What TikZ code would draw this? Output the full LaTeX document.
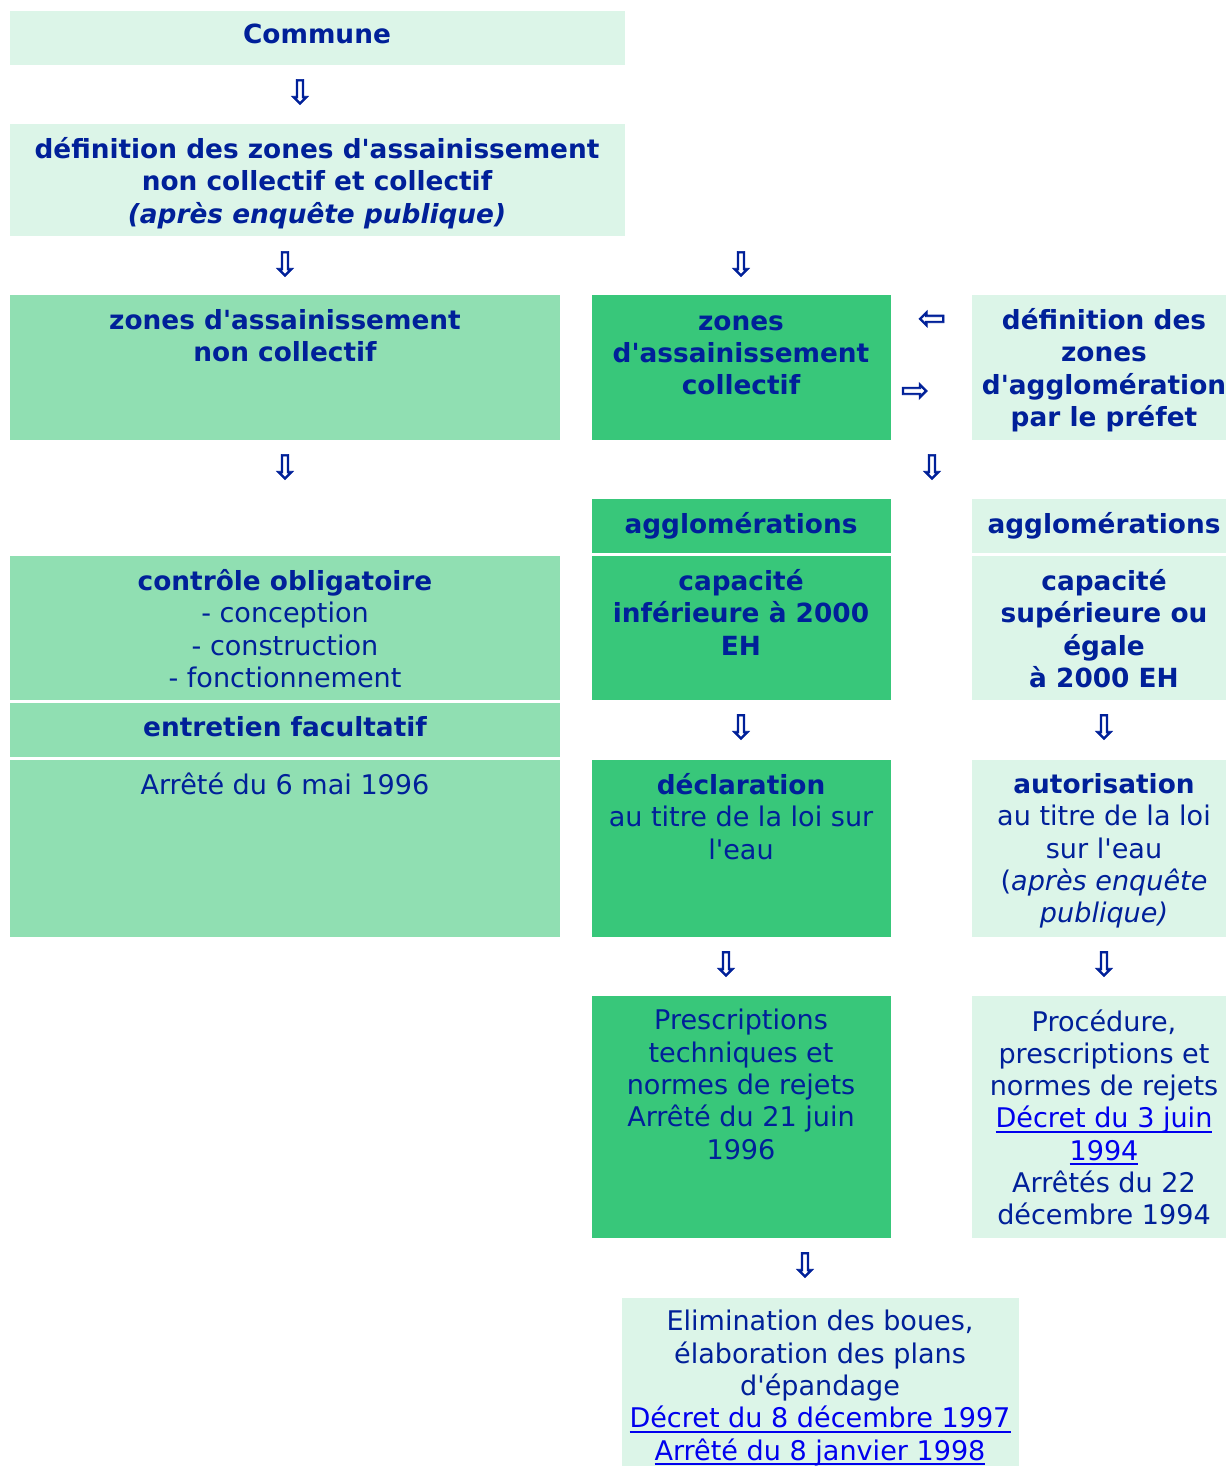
\documentclass[tikz,border=0pt]{standalone}
\usepackage{fontspec}
\setmainfont{DejaVu Sans}[Ligatures=TeXOff]
\newfontfamily\arrowfont{DejaVu Sans}[FakeBold=2]
\usetikzlibrary{fit}
\definecolor{celllight}{RGB}{220,245,232}
\definecolor{cellmid}{RGB}{144,223,178}
\definecolor{celldark}{RGB}{56,199,122}
\definecolor{navy}{RGB}{0,32,153}
\definecolor{linkblue}{RGB}{0,0,238}
\newsavebox{\lnkbox}
\newcommand{\lnk}[1]{{\color{linkblue}\sbox{\lnkbox}{#1}\rlap{\rule[-2.7pt]{\wd\lnkbox}{1.1pt}}\usebox{\lnkbox}}}
\newcommand{\bt}[1]{{\fontsize{15}{18.4}\selectfont\bfseries #1}}
\tikzset{
cell/.style = {inner sep=0pt, draw=none},
light/.style = {cell, fill=celllight},
mid/.style = {cell, fill=cellmid},
dark/.style = {cell, fill=celldark},
txt/.style = {anchor=north, align=center, inner sep=0pt, text=navy, font=\fontsize{15.4}{18.4}\selectfont},
txtb/.style = {txt, font=\fontsize{15}{18.4}\selectfont\bfseries},
arr/.style = {text=navy, inner sep=0pt, font=\fontsize{19}{19}\selectfont\arrowfont}
}
\begin{document}
\begin{tikzpicture}[x=0.02cm, y=-0.02cm]
  \useasboundingbox (0,0) rectangle (1226,1466);
  % cells
  \node [light, fit={(10,11) (625,65)}] (commune) {};
  \node [light, fit={(10,124) (625,236)}] (defzones) {};
  \node [mid, fit={(10,295) (560,440)}] (zanc) {};
  \node [dark, fit={(592,295) (891,440)}] (zac) {};
  \node [light, fit={(972,295) (1236,440)}] (defagglo) {};
  \node [dark, fit={(592,499) (891,553)}] (agglo1) {};
  \node [light, fit={(972,499) (1236,553)}] (agglo2) {};
  \node [mid, fit={(10,556) (560,700)}] (controle) {};
  \node [dark, fit={(592,556) (891,700)}] (capinf) {};
  \node [light, fit={(972,556) (1236,700)}] (capsup) {};
  \node [mid, fit={(10,703) (560,757)}] (entretien) {};
  \node [mid, fit={(10,760) (560,937)}] (arrete) {};
  \node [dark, fit={(592,760) (891,937)}] (declar) {};
  \node [light, fit={(972,760) (1236,937)}] (autor) {};
  \node [dark, fit={(592,996) (891,1238)}] (prescr) {};
  \node [light, fit={(972,996) (1236,1238)}] (proced) {};
  \node [light, fit={(622,1298) (1019,1480)}] (elim) {};
  % texts
  \node [txtb] (commune-t) at (317,24) {Commune};
  \node [txtb] (defzones-t) at (317,137) {définition des zones d'assainissement\\ non collectif et collectif\\ \textit{(après enquête publique)}};
  \node [txtb] (zanc-t) at (285,309) {zones d'assainissement\\ non collectif};
  \node [txtb] (zac-t) at (741,315) {zones\\ d'assainissement\\ collectif};
  \node [txtb] (defagglo-t) at (1104,308) {définition des\\ zones\\ d'agglomération\\ par le préfet};
  \node [txtb] (agglo1-t) at (741,512) {agglomérations};
  \node [txtb] (agglo2-t) at (1104,512) {agglomérations};
  \node [txt] (controle-t) at (285,569) {\bt{contrôle obligatoire}\\ - conception\\ - construction\\ - fonctionnement};
  \node [txtb] (capinf-t) at (741,569) {capacité\\ inférieure à 2000\\ EH};
  \node [txtb] (capsup-t) at (1104,569) {capacité\\ supérieure ou\\ égale\\ à 2000 EH};
  \node [txtb] (entretien-t) at (285,716) {entretien facultatif};
  \node [txt] (arrete-t) at (285,773) {Arrêté du 6 mai 1996};
  \node [txt] (declar-t) at (741,773) {\bt{déclaration}\\ au titre de la loi sur\\ l'eau};
  \node [txt] (autor-t) at (1104,773) {\bt{autorisation}\\ au titre de la loi\\ sur l'eau\\ (\textit{après enquête}\\ \textit{publique)}};
  \node [txt] (prescr-t) at (741,1009) {Prescriptions\\ techniques et\\ normes de rejets\\ Arrêté du 21 juin\\ 1996};
  \node [txt] (proced-t) at (1104,1009) {Procédure,\\ prescriptions et\\ normes de rejets\\ \lnk{Décret du 3 juin}\\ \lnk{1994}\\ Arrêtés du 22\\ décembre 1994};
  \node [txt] (elim-t) at (820,1310) {Elimination des boues,\\ élaboration des plans\\ d'épandage\\ \lnk{Décret du 8 décembre 1997}\\ \lnk{Arrêté du 8 janvier 1998}};
  % arrows
  \node [arr] (a1) at (300,92) {⇩};
  \node [arr] (a2) at (285,264) {⇩};
  \node [arr] (a3) at (741,264) {⇩};
  \node [arr] (a4) at (932,320) {⇦};
  \node [arr] (a5) at (915,392) {⇨};
  \node [arr] (a6) at (285,467) {⇩};
  \node [arr] (a7) at (932,467) {⇩};
  \node [arr] (a8) at (741,727) {⇩};
  \node [arr] (a9) at (1104,727) {⇩};
  \node [arr] (a10) at (726,964) {⇩};
  \node [arr] (a11) at (1104,964) {⇩};
  \node [arr] (a12) at (805,1265) {⇩};
\end{tikzpicture}
\end{document}
